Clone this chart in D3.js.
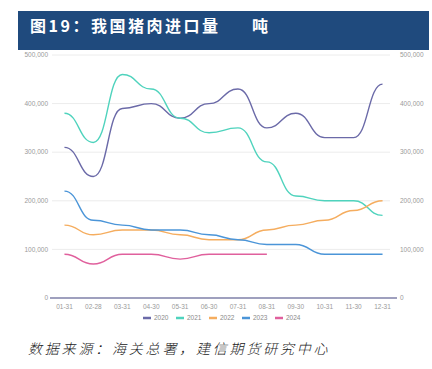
<!DOCTYPE html>
<html>
<head>
<meta charset="utf-8">
<script src="https://cdn.jsdelivr.net/npm/d3@7"></script>
<style>
  body { margin: 0; background: #fff; }
  svg { display: block; }
</style>
</head>
<body>
<div id="chart"></div>
<script>
const width = 432;
const height = 369;

// Data (tonnes)
const months = ["01-31", "02-28", "03-31", "04-30", "05-31", "06-30", "07-31", "08-31", "09-30", "10-31", "11-30", "12-31"];
const years = ["2020", "2021", "2022", "2023", "2024"];
const v2020 = [310000, 250000, 390000, 400000, 370000, 400000, 430000, 350000, 380000, 330000, 330000, 440000];
const v2021 = [380000, 320000, 460000, 430000, 370000, 340000, 350000, 280000, 210000, 200000, 200000, 170000];
const v2022 = [150000, 130000, 140000, 140000, 130000, 120000, 120000, 140000, 150000, 160000, 180000, 200000];
const v2023 = [220000, 160000, 150000, 140000, 140000, 130000, 120000, 110000, 110000, 90000, 90000, 90000];
const v2024 = [90000, 70000, 90000, 90000, 80000, 90000, 90000, 90000];
const yTicks = [0, 100000, 200000, 300000, 400000, 500000];

const seriesValues = [v2020, v2021, v2022, v2023, v2024];
const colors = ["#6b6aa8", "#4fd3bd", "#f5ad5f", "#4b95d8", "#e0609d"];

const svg = d3.select("#chart").append("svg")
    .attr("width", width)
    .attr("height", height);

// Title bar
svg.append("rect")
    .attr("x", 18).attr("y", 11)
    .attr("width", 411).attr("height", 39)
    .attr("fill", "#1f4a7d");
svg.append("text")
    .attr("x", 30).attr("y", 32)
    .attr("fill", "#fff")
    .attr("font-family", "Noto Sans CJK SC")
    .attr("font-weight", "bold")
    .attr("font-size", 16)
    .attr("letter-spacing", 2.5)
    .text("图19：我国猪肉进口量");
svg.append("text")
    .attr("x", 252).attr("y", 32)
    .attr("fill", "#fff")
    .attr("font-family", "Noto Sans CJK SC")
    .attr("font-weight", "bold")
    .attr("font-size", 16)
    .text("吨");

// Scales
const x = d3.scaleBand().domain(months).range([50, 397]);
const y = d3.scaleLinear().domain([0, 500000]).range([298, 55]);
const fmt = d3.format(",");

// Grid lines
svg.append("g")
  .selectAll("line")
  .data(yTicks.slice(1))
  .join("line")
    .attr("x1", 52).attr("x2", 390)
    .attr("y1", d => y(d)).attr("y2", d => y(d))
    .attr("stroke", "#ececec")
    .attr("stroke-width", 1);

// Left axis labels
svg.append("g")
  .selectAll("text")
  .data(yTicks)
  .join("text")
    .attr("x", 48)
    .attr("y", d => y(d))
    .attr("dy", "0.35em")
    .attr("text-anchor", "end")
    .attr("font-family", "Liberation Sans, Arial")
    .attr("font-size", 6.5)
    .attr("fill", "#9a9a9a")
    .text(d => fmt(d));

// Right axis labels
svg.append("g")
  .selectAll("text")
  .data(yTicks)
  .join("text")
    .attr("x", 400)
    .attr("y", d => y(d))
    .attr("dy", "0.35em")
    .attr("text-anchor", "start")
    .attr("font-family", "Liberation Sans, Arial")
    .attr("font-size", 6.5)
    .attr("fill", "#9a9a9a")
    .text(d => fmt(d));

// X axis
const xAxis = svg.append("g")
    .attr("transform", `translate(0,${y(0)})`)
    .call(d3.axisBottom(x).tickSize(0).tickPadding(6));
xAxis.select(".domain").attr("stroke", "#7f80a8").attr("stroke-width", 1.3)
    .attr("d", "M50,0H397");
xAxis.selectAll("text")
    .attr("font-family", "Liberation Sans, Arial")
    .attr("font-size", 6.5)
    .attr("fill", "#9a9a9a");

// Lines
const line = d3.line()
    .x((d, i) => x(months[i]) + x.bandwidth() / 2)
    .y(d => y(d))
    .curve(d3.curveBumpX);

svg.append("g")
  .selectAll("path")
  .data(seriesValues)
  .join("path")
    .attr("d", d => line(d))
    .attr("fill", "none")
    .attr("stroke", (d, i) => colors[i])
    .attr("stroke-width", 1.4);

// Legend
const legend = svg.append("g")
  .selectAll("g")
  .data(years)
  .join("g")
    .attr("transform", (d, i) => `translate(${143 + i * 33},318)`);
legend.append("line")
    .attr("x1", 0).attr("x2", 8)
    .attr("stroke", (d, i) => colors[i])
    .attr("stroke-width", 2.5);
legend.append("text")
    .attr("x", 11)
    .attr("dy", "0.35em")
    .attr("font-family", "Liberation Sans, Arial")
    .attr("font-size", 6.5)
    .attr("fill", "#8a8a8a")
    .text(d => d);

// Source note
svg.append("text")
    .attr("x", 28).attr("y", 354)
    .attr("font-family", "Noto Sans CJK SC")
    .attr("font-style", "italic")
    .attr("font-weight", 300)
    .attr("font-size", 14)
    .attr("letter-spacing", 2.8)
    .attr("fill", "#222")
    .text("数据来源：海关总署，建信期货研究中心");
</script>
</body>
</html>
